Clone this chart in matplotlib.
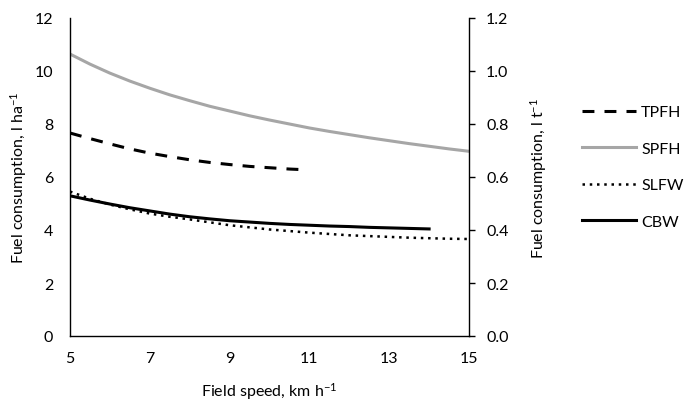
import matplotlib
matplotlib.use("Agg")
import matplotlib.pyplot as plt
from matplotlib.ticker import FormatStrFormatter

plt.rcParams['font.family'] = ['Lato', 'DejaVu Sans']
plt.rcParams['mathtext.fontset'] = 'custom'
plt.rcParams['mathtext.rm'] = 'Lato'
plt.rcParams['mathtext.it'] = 'Lato'

# Data (fuel consumption, l/ha) vs field speed (km/h)
tpfh_x = [5, 5.5, 6, 6.5, 7, 7.5, 8, 8.5, 9, 9.5, 10, 10.5, 10.8]
tpfh_y = [7.66, 7.45, 7.25, 7.06, 6.90, 6.77, 6.65, 6.55, 6.47, 6.40, 6.35, 6.30, 6.28]

spfh_x = [5, 5.5, 6, 6.5, 7, 7.5, 8, 8.5, 9, 9.5, 10, 10.5, 11, 11.5, 12, 12.5, 13, 13.5, 14, 14.5, 15]
spfh_y = [10.64, 10.26, 9.92, 9.62, 9.35, 9.10, 8.88, 8.67, 8.49, 8.31, 8.15, 8.00, 7.85,
          7.72, 7.60, 7.48, 7.37, 7.26, 7.16, 7.06, 6.97]

slfw_x = [5, 5.5, 6, 6.5, 7, 7.5, 8, 8.5, 9, 9.5, 10, 10.5, 11, 11.5, 12, 12.5, 13, 13.5, 14, 14.5, 15]
slfw_y = [5.45, 5.18, 4.96, 4.78, 4.62, 4.50, 4.40, 4.29, 4.18, 4.10, 4.02, 3.96, 3.90,
          3.85, 3.80, 3.77, 3.74, 3.71, 3.69, 3.67, 3.66]

cbw_x = [5, 5.5, 6, 6.5, 7, 7.5, 8, 8.5, 9, 9.5, 10, 10.5, 11, 11.5, 12, 12.5, 13, 13.5, 14]
cbw_y = [5.29, 5.13, 4.98, 4.84, 4.72, 4.60, 4.50, 4.42, 4.35, 4.30, 4.25, 4.21, 4.18,
         4.15, 4.13, 4.10, 4.08, 4.06, 4.04]

x_ticks = [5, 7, 9, 11, 13, 15]
left_ticks = [0, 2, 4, 6, 8, 10, 12]
right_ticks = [0.0, 0.2, 0.4, 0.6, 0.8, 1.0, 1.2]

fig = plt.figure(figsize=(6.85, 4.06), dpi=100)
ax = fig.add_axes([70/685, 1-337/406, (469-70)/685, (337-19)/406])

l1, = ax.plot(tpfh_x, tpfh_y, color='black', lw=2.2, linestyle=(0, (3.9, 3.3)), label='TPFH')
l2, = ax.plot(spfh_x, spfh_y, color='#A6A6A6', lw=2.2, label='SPFH')
l3, = ax.plot(slfw_x, slfw_y, color='black', lw=1.8, linestyle=(0, (1, 1.9)), label='SLFW')
l4, = ax.plot(cbw_x, cbw_y, color='black', lw=2.2, label='CBW')

ax.set_xlim(5, 15)
ax.set_ylim(0, 12)
ax.set_xticks(x_ticks)
ax.set_yticks(left_ticks)
fs = 11.5
ax.tick_params(axis='x', length=0, pad=11, labelsize=fs)
ax.tick_params(axis='y', length=0, pad=12, labelsize=fs)
for s in ['top', 'right']:
    ax.spines[s].set_visible(False)
for s in ['left', 'bottom']:
    ax.spines[s].set_linewidth(1.0)

ax2 = ax.twinx()
ax2.set_ylim(0, 1.2)
ax2.set_yticks(right_ticks)
ax2.yaxis.set_major_formatter(FormatStrFormatter('%.1f'))
ax2.tick_params(axis='y', length=4.3, width=1.0, pad=8, labelsize=fs, direction='out')
for s in ['top', 'left', 'bottom']:
    ax2.spines[s].set_visible(False)
ax2.spines['right'].set_linewidth(1.0)

ax.set_xlabel('Field speed, km h$^{-1}$', fontsize=fs, labelpad=11)
ax.set_ylabel('Fuel consumption, l ha$^{-1}$', fontsize=fs, labelpad=4)
ax2.set_ylabel('Fuel consumption, l t$^{-1}$', fontsize=fs, labelpad=14)

fig.legend(handles=[l1, l2, l3, l4], loc='center left', bbox_to_anchor=(582/685, 1-168/406),
           frameon=False, fontsize=fs, handlelength=3.4, handletextpad=0.3, labelspacing=1.4,
           borderaxespad=0, borderpad=0)

fig.savefig('out.png', dpi=100)
